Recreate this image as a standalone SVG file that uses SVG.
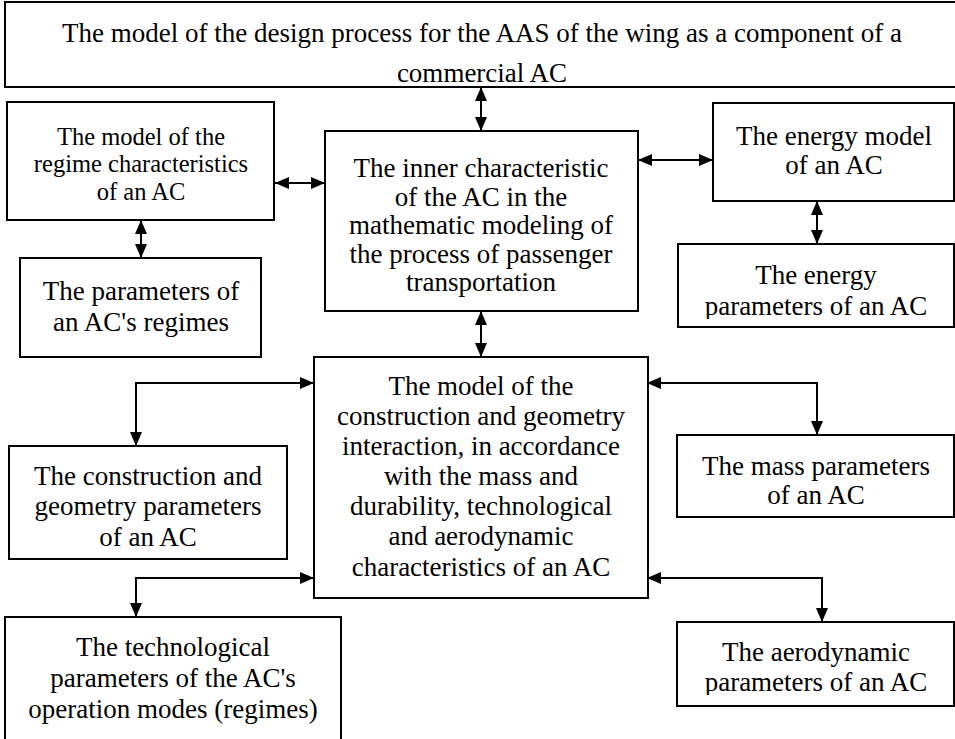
<svg xmlns="http://www.w3.org/2000/svg" width="955" height="739" viewBox="0 0 955 739">
<style>
.box{fill:#fff;stroke:#000;stroke-width:2}
.t{font-family:"Liberation Serif","Times New Roman",serif;font-size:27px;text-anchor:middle;fill:#000}
.s{font-size:24.5px}
.conn{fill:none;stroke:#000;stroke-width:2;marker-start:url(#ah);marker-end:url(#ah)}
</style>
<defs>
<marker id="ah" viewBox="0 0 14 12" refX="14" refY="6" markerWidth="14" markerHeight="12" markerUnits="userSpaceOnUse" orient="auto-start-reverse">
<path d="M0,0 L14,6 L0,12 z" fill="#000"/>
</marker>
<clipPath id="clipE"><rect x="678" y="244" width="280" height="75"/></clipPath>
<clipPath id="clipA"><rect x="677" y="622" width="280" height="73"/></clipPath>
</defs>
<rect width="955" height="739" fill="#fff"/>

<g id="connectors">
<line class="conn" x1="481" y1="87" x2="481" y2="131"/>
<line class="conn" x1="275" y1="183" x2="325" y2="183"/>
<line class="conn" x1="141" y1="220" x2="141" y2="258"/>
<line class="conn" x1="638" y1="160" x2="713" y2="160"/>
<line class="conn" x1="817" y1="201" x2="817" y2="244"/>
<line class="conn" x1="481" y1="311" x2="481" y2="357"/>
<polyline class="conn" points="314,383 136,383 136,446"/>
<polyline class="conn" points="314,578 136,578 136,617"/>
<polyline class="conn" points="647,383 817,383 817,435"/>
<polyline class="conn" points="647,578 822,578 822,622"/>
</g>

<g id="top">
<rect class="box" x="5" y="2" width="960" height="85"/>
<text class="t" x="482" y="42">The model of the design process for the AAS of the wing as a component of a</text>
<text class="t" x="482" y="82">commercial AC</text>
</g>

<g id="regime-model">
<rect class="box" x="7" y="102" width="267" height="118"/>
<text class="t s" x="141" y="145">The model of the</text>
<text class="t s" x="141" y="172">regime characteristics</text>
<text class="t s" x="141" y="200">of an AC</text>
</g>

<g id="regime-params">
<rect class="box" x="20" y="258" width="241" height="99"/>
<text class="t" x="141" y="300">The parameters of</text>
<text class="t" x="141" y="331">an AC's regimes</text>
</g>

<g id="inner">
<rect class="box" x="325" y="131" width="313" height="180"/>
<text class="t" x="481" y="177">The inner characteristic</text>
<text class="t" x="481" y="206">of the AC in the</text>
<text class="t" x="481" y="234">mathematic modeling of</text>
<text class="t" x="481" y="263">the process of passenger</text>
<text class="t" x="481" y="291">transportation</text>
</g>

<g id="energy-model">
<rect class="box" x="713" y="103" width="241" height="98"/>
<text class="t" x="834" y="145">The energy model</text>
<text class="t" x="834" y="174">of an AC</text>
</g>

<g id="energy-params">
<rect class="box" x="678" y="244" width="276" height="83"/>
<g clip-path="url(#clipE)">
<text class="t" x="816" y="284">The energy</text>
<text class="t" x="816" y="315">parameters of an AC</text>
</g>
</g>

<g id="construction-model">
<rect class="box" x="314" y="357" width="334" height="241"/>
<text class="t" x="481" y="395">The model of the</text>
<text class="t" x="481" y="425">construction and geometry</text>
<text class="t" x="481" y="455">interaction, in accordance</text>
<text class="t" x="481" y="485">with the mass and</text>
<text class="t" x="481" y="515">durability, technological</text>
<text class="t" x="481" y="545">and aerodynamic</text>
<text class="t" x="481" y="576">characteristics of an AC</text>
</g>

<g id="construction-params">
<rect class="box" x="9" y="446" width="278" height="113"/>
<text class="t" x="148" y="485">The construction and</text>
<text class="t" x="148" y="515">geometry parameters</text>
<text class="t" x="148" y="546">of an AC</text>
</g>

<g id="mass-params">
<rect class="box" x="677" y="435" width="277" height="82"/>
<text class="t" x="816" y="475">The mass parameters</text>
<text class="t" x="816" y="504">of an AC</text>
</g>

<g id="tech-params">
<rect class="box" x="5" y="617" width="336" height="130"/>
<text class="t" x="173" y="656">The technological</text>
<text class="t" x="173" y="687">parameters of the AC's</text>
<text class="t" x="173" y="718">operation modes (regimes)</text>
</g>

<g id="aero-params">
<rect class="box" x="677" y="622" width="277" height="84"/>
<g clip-path="url(#clipA)">
<text class="t" x="816" y="661">The aerodynamic</text>
<text class="t" x="816" y="691">parameters of an AC</text>
</g>
</g>
</svg>
